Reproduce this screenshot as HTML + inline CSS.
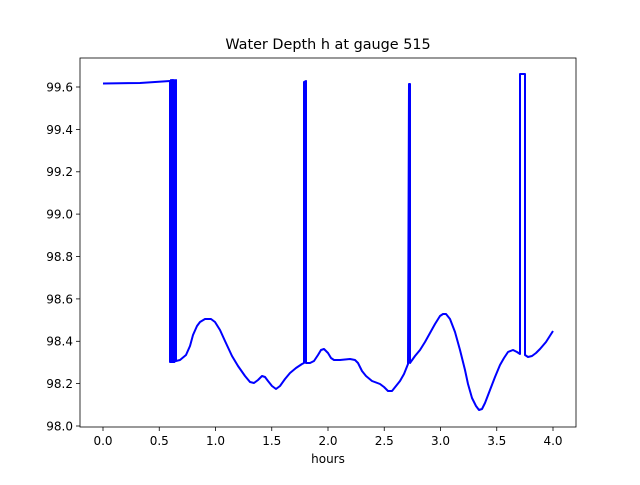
<!DOCTYPE html>
<html><head><meta charset="utf-8"><style>
body{margin:0;background:#fff}
svg text{font-family:"DejaVu Sans","Liberation Sans",sans-serif;fill:#000}
</style></head><body>
<svg width="640" height="480" viewBox="0 0 640 480" xmlns="http://www.w3.org/2000/svg">
<rect width="640" height="480" fill="#fff"/>
<text x="328" y="49" font-size="14.4" text-anchor="middle">Water Depth h at gauge 515</text>
<g stroke="#000" stroke-width="0.8">
<line x1="103" y1="427" x2="103" y2="431"/><line x1="159.25" y1="427" x2="159.25" y2="431"/>
<line x1="215.5" y1="427" x2="215.5" y2="431"/><line x1="271.75" y1="427" x2="271.75" y2="431"/>
<line x1="328" y1="427" x2="328" y2="431"/><line x1="384.25" y1="427" x2="384.25" y2="431"/>
<line x1="440.5" y1="427" x2="440.5" y2="431"/><line x1="496.75" y1="427" x2="496.75" y2="431"/>
<line x1="553" y1="427" x2="553" y2="431"/>
<line x1="76" y1="426" x2="80" y2="426"/><line x1="76" y1="383.6" x2="80" y2="383.6"/>
<line x1="76" y1="341.3" x2="80" y2="341.3"/><line x1="76" y1="298.9" x2="80" y2="298.9"/>
<line x1="76" y1="256.5" x2="80" y2="256.5"/><line x1="76" y1="214.1" x2="80" y2="214.1"/>
<line x1="76" y1="171.8" x2="80" y2="171.8"/><line x1="76" y1="129.4" x2="80" y2="129.4"/>
<line x1="76" y1="87" x2="80" y2="87"/>
</g>
<g font-size="12" text-anchor="middle">
<text x="103" y="445">0.0</text><text x="159.25" y="445">0.5</text><text x="215.5" y="445">1.0</text>
<text x="271.75" y="445">1.5</text><text x="328" y="445">2.0</text><text x="384.25" y="445">2.5</text>
<text x="440.5" y="445">3.0</text><text x="496.75" y="445">3.5</text><text x="553" y="445">4.0</text>
</g>
<g font-size="12" text-anchor="end">
<text x="73" y="430.5">98.0</text><text x="73" y="388">98.2</text><text x="73" y="345.7">98.4</text>
<text x="73" y="303.3">98.6</text><text x="73" y="261">98.8</text><text x="73" y="218.6">99.0</text>
<text x="73" y="176.2">99.2</text><text x="73" y="133.8">99.4</text><text x="73" y="91.5">99.6</text>
</g>
<text x="328" y="463" font-size="12" text-anchor="middle">hours</text>
<polyline fill="none" stroke="#0000ff" stroke-width="2" stroke-linejoin="round" points="
103,83.5 140,83 170,81 170,362 171,80 171.5,362 172.5,80 173,362 174,80 174.5,362 176,80 176,361
180,360 186,355 190,346 193,335 197,326 200,322 205,319 211,319 215,322 220,330 225,341 232,356 238,366 245,376 250,382 254,383 258,380 262,376 265,377 268,381 272,386 276,389 280,386 285,379 290,373 296,368 302,364 304,363 304,82 306,81 306,363
310,363 314,361 318,355 321,350 324,349 328,353 331,358 334,360 340,360 350,359 355,360 358,363 362,371 366,376 372,381 380,384 384,387 388,391 392,391 396,386 400,381 404,374 408,364 409,84 410,84 410,363
415,356 420,350 425,342 430,333 435,324 440,316 443,314 446,314 450,319 455,332 460,350 465,370 468,384 472,398 476,406 479,410 482,409 485,403 490,390 495,377 500,365 504,358 508,352 513,350 517,352 520,354 520,74 525,74 525,355
528,357 532,356 536,353 540,349 546,342 553,331"/>
<rect x="80" y="58" width="496" height="369" fill="none" stroke="#000" stroke-width="0.8"/>
</svg>
</body></html>
